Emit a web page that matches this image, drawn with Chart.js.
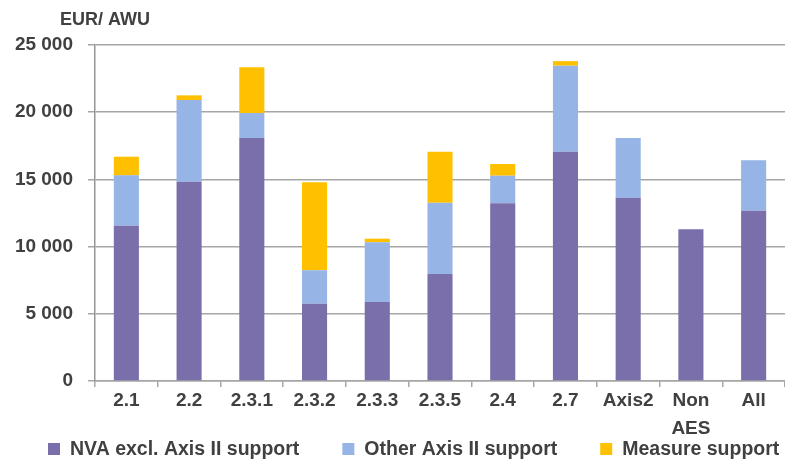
<!DOCTYPE html>
<html>
<head>
<meta charset="utf-8">
<script src="https://cdn.jsdelivr.net/npm/chart.js@4.4.1/dist/chart.umd.min.js"></script>
<style>
    html, body { margin: 0; padding: 0; background: #ffffff; }
    .chart-wrap { position: relative; width: 785px; height: 463px; }
</style>
</head>
<body>
<div class="chart-wrap"><canvas id="awuChart"></canvas></div>
<script>
// Values (EUR per AWU)
const categories = ['2.1', '2.2', '2.3.1', '2.3.2', '2.3.3', '2.3.5', '2.4', '2.7', 'Axis2', ['Non', 'AES'], 'All'];
const nvaExclAxis2 = [11550, 14830, 18080, 5750, 5880, 7960, 13220, 17060, 13640, 11290, 12670];
const otherAxis2 = [3750, 6070, 1860, 2490, 4440, 5310, 2055, 6400, 4440, 0, 3750];
const measureSupport = [1390, 355, 3400, 6550, 270, 3790, 870, 340, 0, 0, 0];
const yTicks = [0, 5000, 10000, 15000, 20000, 25000];

const textColor = '#404040';
const gridColor = '#a6a6a6';
const fontFamily = '"Liberation Sans", Arial, sans-serif';

// Unit label above the y axis + legend row along the bottom
const annotations = {
    id: 'annotations',
    afterDraw(chart) {
        const ctx = chart.ctx;
        ctx.save();
        ctx.font = 'bold 18px ' + fontFamily;
        ctx.fillStyle = textColor;
        ctx.textBaseline = 'middle';
        ctx.textAlign = 'left';
        ctx.fillText('EUR/ AWU', 60, 20);

        // legend: square, label, gap, next square...
        ctx.font = 'bold 19.5px ' + fontFamily;
        let x = 48;
        const y = 449;
        chart.data.datasets.forEach(ds => {
            ctx.fillStyle = ds.backgroundColor;
            ctx.fillRect(x, y - 6, 12, 12);
            ctx.fillStyle = textColor;
            ctx.fillText(ds.label, x + 22, y + 1);
            x += 22 + ctx.measureText(ds.label).width + 43;
        });
        ctx.restore();
    }
};

function formatThousands(v) {
    return String(v).replace(/\B(?=(\d{3})+(?!\d))/g, ' ');
}

const ctx = document.getElementById('awuChart').getContext('2d');
new Chart(ctx, {
    type: 'bar',
    data: {
        labels: categories,
        datasets: [{
            label: 'NVA excl. Axis II support',
            data: nvaExclAxis2,
            backgroundColor: '#7A6FAA'
        }, {
            label: 'Other Axis II support',
            data: otherAxis2,
            backgroundColor: '#96B4E6'
        }, {
            label: 'Measure support',
            data: measureSupport,
            backgroundColor: '#FFC000'
        }]
    },
    options: {
        responsive: true,
        maintainAspectRatio: false,
        animation: false,
        layout: { padding: { top: 45, right: 0, bottom: 0, left: 0 } },
        datasets: {
            bar: { categoryPercentage: 0.8, barPercentage: 0.5 }
        },
        scales: {
            x: {
                stacked: true,
                grid: {
                    offset: true,
                    drawOnChartArea: false,
                    drawTicks: true,
                    tickLength: 6,
                    color: gridColor,
                    lineWidth: 1.5
                },
                border: { color: gridColor, width: 1.5 },
                ticks: {
                    color: textColor,
                    padding: 0,
                    maxRotation: 0,
                    autoSkip: false,
                    font: { family: fontFamily, size: 19, weight: 'bold', lineHeight: 1.45 }
                },
                afterFit(scale) { scale.height = 82; }
            },
            y: {
                stacked: true,
                min: 0,
                max: 25000,
                afterBuildTicks(scale) {
                    scale.ticks = yTicks.map(v => ({ value: v }));
                },
                grid: {
                    color: gridColor,
                    lineWidth: 1.5,
                    drawTicks: true,
                    tickLength: 7
                },
                border: { color: '#969696', width: 1.5 },
                ticks: {
                    color: textColor,
                    padding: 15,
                    callback: v => formatThousands(v),
                    font: { family: fontFamily, size: 19, weight: 'bold' }
                },
                afterFit(scale) { scale.width = 95; }
            }
        },
        plugins: {
            legend: { display: false },
            tooltip: { enabled: false }
        }
    },
    plugins: [annotations]
});
</script>
</body>
</html>
